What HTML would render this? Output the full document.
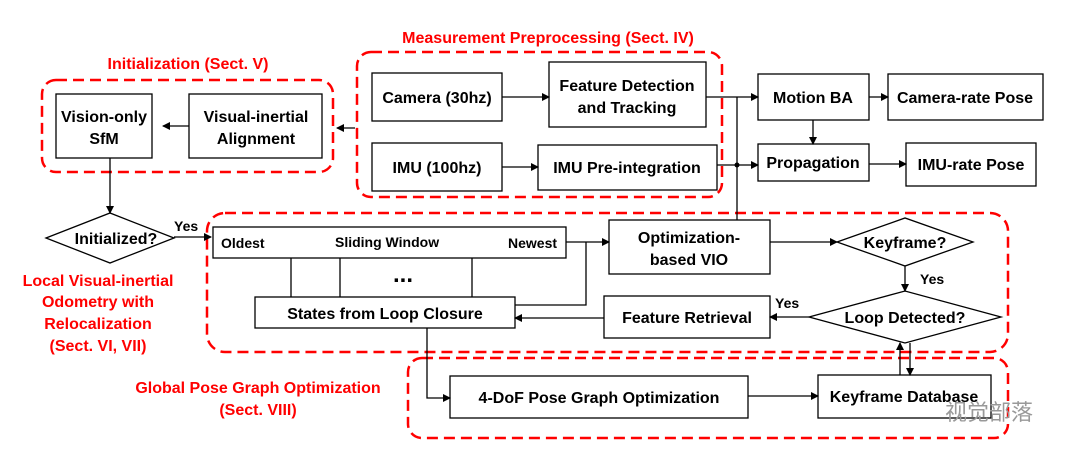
<!DOCTYPE html>
<html><head><style>body{margin:0;background:#fff}svg{display:block}text{font-family:"Liberation Sans","Noto Sans CJK SC",sans-serif}</style></head>
<body>
<svg width="1080" height="457" viewBox="0 0 1080 457" xmlns="http://www.w3.org/2000/svg">
<defs><marker id="a" markerWidth="8" markerHeight="8" refX="7" refY="4" orient="auto" markerUnits="userSpaceOnUse"><path d="M0,0L8,4L0,8z" fill="#000"/></marker></defs>
<g fill="none" stroke="#f00" stroke-width="2.5" stroke-dasharray="11,6">
<rect x="42" y="80" width="291" height="92" rx="14"/>
<rect x="357" y="52" width="365" height="145" rx="14"/>
<rect x="207" y="213" width="801" height="139" rx="18"/>
<rect x="408" y="358" width="600" height="80" rx="14"/>
</g>
<g fill="#f00" font-size="16" text-anchor="middle" font-weight="bold">
<text x="188" y="69">Initialization (Sect. V)</text>
<text x="548" y="43">Measurement Preprocessing (Sect. IV)</text>
<text x="98" y="286">Local Visual-inertial</text>
<text x="98" y="307">Odometry with</text>
<text x="98" y="329">Relocalization</text>
<text x="98" y="351">(Sect. VI, VII)</text>
<text x="258" y="393">Global Pose Graph Optimization</text>
<text x="258" y="415">(Sect. VIII)</text>
</g>
<g fill="#fff" stroke="#000" stroke-width="1.3">
<rect x="56" y="94" width="96" height="64"/>
<rect x="189" y="94" width="133" height="64"/>
<rect x="372" y="73" width="130" height="48"/>
<rect x="549" y="62" width="157" height="65"/>
<rect x="372" y="143" width="130" height="48"/>
<rect x="538" y="145" width="179" height="45"/>
<rect x="758" y="74" width="111" height="46"/>
<rect x="888" y="74" width="155" height="46"/>
<rect x="758" y="144" width="111" height="37"/>
<rect x="906" y="143" width="130" height="43"/>
<polygon points="46,238 110,213 174,238 110,263"/>
<rect x="213" y="227" width="353" height="31"/>
<rect x="255" y="297" width="260" height="31"/>
<rect x="609" y="220" width="161" height="54"/>
<polygon points="837,242 905,218 973,242 905,266"/>
<polygon points="809,317 905,291 1001,317 905,343"/>
<rect x="604" y="296" width="166" height="42"/>
<rect x="450" y="376" width="298" height="42"/>
<rect x="818" y="375" width="173" height="43"/>
</g>
<g stroke="#000" stroke-width="1.3" fill="none">
<line x1="189" y1="126" x2="163" y2="126" marker-end="url(#a)"/>
<line x1="355" y1="128" x2="337" y2="128" marker-end="url(#a)"/>
<line x1="502" y1="97" x2="549" y2="97" marker-end="url(#a)"/>
<line x1="502" y1="167" x2="538" y2="167" marker-end="url(#a)"/>
<line x1="706" y1="97" x2="758" y2="97" marker-end="url(#a)"/>
<line x1="717" y1="165" x2="758" y2="165" marker-end="url(#a)"/>
<polyline points="737,220 737,97"/>
<line x1="869" y1="97" x2="888" y2="97" marker-end="url(#a)"/>
<line x1="813" y1="120" x2="813" y2="144" marker-end="url(#a)"/>
<line x1="869" y1="164" x2="906" y2="164" marker-end="url(#a)"/>
<line x1="110" y1="158" x2="110" y2="213" marker-end="url(#a)"/>
<line x1="174" y1="237" x2="211" y2="237" marker-end="url(#a)"/>
<line x1="291" y1="258" x2="291" y2="297"/>
<line x1="340" y1="258" x2="340" y2="297"/>
<line x1="472" y1="258" x2="472" y2="297"/>
<line x1="566" y1="242" x2="609" y2="242" marker-end="url(#a)"/>
<polyline points="586,242 586,305 515,305"/>
<line x1="770" y1="242" x2="837" y2="242" marker-end="url(#a)"/>
<line x1="905" y1="266" x2="905" y2="291" marker-end="url(#a)"/>
<line x1="809" y1="317" x2="770" y2="317" marker-end="url(#a)"/>
<line x1="604" y1="318" x2="515" y2="318" marker-end="url(#a)"/>
<polyline points="427,328 427,398 450,398" marker-end="url(#a)"/>
<line x1="748" y1="396" x2="818" y2="396" marker-end="url(#a)"/>
<line x1="900" y1="375" x2="900" y2="343" marker-end="url(#a)"/>
<line x1="910" y1="343" x2="910" y2="375" marker-end="url(#a)"/>
</g>
<circle cx="737" cy="165" r="2.5" fill="#000"/>
<g font-size="16" font-weight="bold" text-anchor="middle" fill="#000">
<text x="104" y="122">Vision-only</text><text x="104" y="144">SfM</text>
<text x="256" y="122">Visual-inertial</text><text x="256" y="144">Alignment</text>
<text x="437" y="103">Camera (30hz)</text>
<text x="627" y="91">Feature Detection</text><text x="627" y="113">and Tracking</text>
<text x="437" y="173">IMU (100hz)</text>
<text x="627" y="173">IMU Pre-integration</text>
<text x="813" y="103">Motion BA</text>
<text x="965" y="103">Camera-rate Pose</text>
<text x="813" y="168">Propagation</text>
<text x="971" y="170">IMU-rate Pose</text>
<text x="116" y="244">Initialized?</text>
<text x="385" y="319">States from Loop Closure</text>
<text x="689" y="243">Optimization-</text><text x="689" y="265">based VIO</text>
<text x="905" y="248">Keyframe?</text>
<text x="905" y="323">Loop Detected?</text>
<text x="687" y="323">Feature Retrieval</text>
<text x="599" y="403">4-DoF Pose Graph Optimization</text>
<text x="904" y="402">Keyframe Database</text>
<text x="403" y="282" font-size="24">...</text>
</g>
<g font-size="14" font-weight="bold" fill="#000">
<text x="221" y="248">Oldest</text>
<text x="335" y="247">Sliding Window</text>
<text x="508" y="248">Newest</text>
<text x="174" y="231">Yes</text>
<text x="920" y="284">Yes</text>
<text x="775" y="308">Yes</text>
</g>
<text x="945" y="420" font-size="22" fill="#999" font-family="Liberation Sans,Noto Sans CJK SC,sans-serif">视觉部落</text>
</svg>
</body></html>
